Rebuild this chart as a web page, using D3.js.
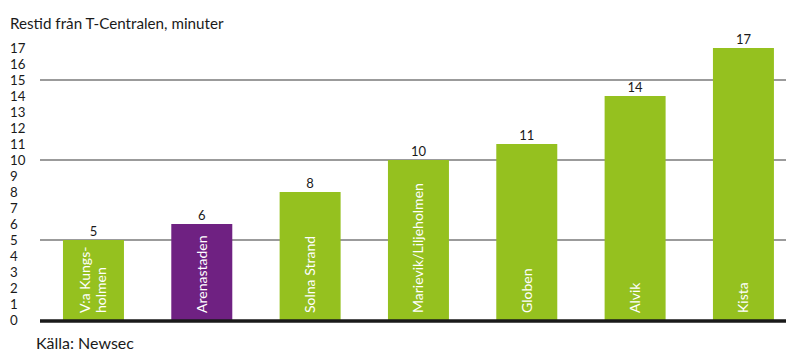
<!DOCTYPE html>
<meta charset="utf-8">
<style>
  body { margin: 0; background: #fff; }
  text { font-family: Lato, "Open Sans", sans-serif; }
</style>
<body>
<script src="https://d3js.org/d3.v7.min.js"></script>
<script>

  let width = 786,
    height = 354;

  let categories = ["V:a Kungs-|holmen", "Arenastaden", "Solna Strand", "Marievik/Liljeholmen", "Globen", "Alvik", "Kista"];
  let values = [5, 6, 8, 10, 11, 14, 17];
  let highlight = ["Arenastaden"];
  let yTicks = d3.range(0, 18);
  let gridValues = [5, 10, 15];

  let green = "#95c11f",
    purple = "#6f2182";

  let svg = d3.select("body").append("svg")
    .attr("width", width)
    .attr("height", height);

  let x = d3.scaleBand()
    .domain(categories)
    .range([39.3, 797.6])
    .paddingInner(0.437)
    .paddingOuter(0.2185);

  let y = d3.scaleLinear()
    .domain([0, 17])
    .range([320, 48]);

  // title
  svg.append("text")
    .attr("x", 10)
    .attr("y", 29)
    .attr("font-size", 15.2)
    .attr("fill", "#1a1a1a")
    .text("Restid från T-Centralen, minuter");

  // tick labels
  svg.selectAll(".tick")
    .data(yTicks)
    .enter().append("text")
    .attr("x", 10)
    .attr("y", d => y(d))
    .attr("dy", "0.36em")
    .attr("font-size", 13.3)
    .attr("fill", "#1a1a1a")
    .text(d => d);

  // grid lines
  svg.selectAll(".grid")
    .data(gridValues)
    .enter().append("line")
    .attr("x1", 40)
    .attr("x2", width)
    .attr("y1", d => y(d))
    .attr("y2", d => y(d))
    .attr("stroke", "#7a7a7a")
    .attr("stroke-width", 1.6);

  // bars
  svg.selectAll(".bar")
    .data(categories)
    .enter().append("rect")
    .attr("x", d => x(d))
    .attr("width", x.bandwidth())
    .attr("y", (d, i) => y(values[i]))
    .attr("height", (d, i) => y(0) - y(values[i]))
    .attr("fill", d => highlight.includes(d) ? purple : green);

  // value labels
  svg.selectAll(".val")
    .data(categories)
    .enter().append("text")
    .attr("x", d => x(d) + x.bandwidth() / 2)
    .attr("y", (d, i) => y(values[i]) - 4)
    .attr("text-anchor", "middle")
    .attr("font-size", 13)
    .attr("fill", "#1a1a1a")
    .text((d, i) => values[i]);

  // category labels inside bars
  let lab = svg.selectAll(".cat")
    .data(categories)
    .enter().append("text")
    .attr("transform", d => {
      let lines = d.split("|").length;
      let cx = x(d) + x.bandwidth() / 2 + 5 - (lines - 1) * 8;
      return "translate(" + cx + ",313) rotate(-90)";
    })
    .attr("font-size", 14)
    .attr("fill", "#fff");

  lab.each(function(d) {
    let parts = d.split("|");
    d3.select(this).selectAll("tspan")
      .data(parts)
      .enter().append("tspan")
      .attr("x", 0)
      .attr("dy", (p, i) => i === 0 ? 0 : "1.1em")
      .text(p => p);
  });

  // axis line
  svg.append("line")
    .attr("x1", 40)
    .attr("x2", width)
    .attr("y1", 321)
    .attr("y2", 321)
    .attr("stroke", "#1a1a1a")
    .attr("stroke-width", 3.5);

  // source
  svg.append("text")
    .attr("x", 36)
    .attr("y", 349)
    .attr("font-size", 16)
    .attr("fill", "#1a1a1a")
    .text("Källa: Newsec");

</script>
